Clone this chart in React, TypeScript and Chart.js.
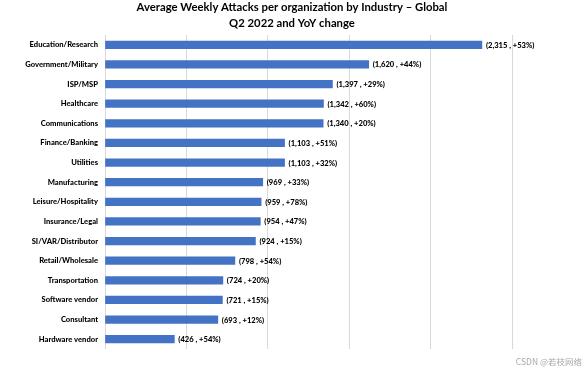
import React, { useEffect, useRef } from "react";
import { Chart, registerables } from "chart.js";

Chart.register(...registerables);

const categories = [
  "Education/Research",
  "Government/Military",
  "ISP/MSP",
  "Healthcare",
  "Communications",
  "Finance/Banking",
  "Utilities",
  "Manufacturing",
  "Leisure/Hospitality",
  "Insurance/Legal",
  "SI/VAR/Distributor",
  "Retail/Wholesale",
  "Transportation",
  "Software vendor",
  "Consultant",
  "Hardware vendor",
];
const weeklyAttacks = [2315, 1620, 1397, 1342, 1340, 1103, 1103, 969, 959, 954, 924, 798, 724, 721, 693, 426];
const yoyChange = [53, 44, 29, 60, 20, 51, 32, 33, 78, 47, 15, 54, 20, 15, 12, 54];
const titleLines = ["Average Weekly Attacks per organization by Industry \u2013 Global", "Q2 2022 and YoY change"];
const watermark = "CSDN @\u82e5\u679d\u7f51\u7edc";

const FONT = 'Lato, "Liberation Sans", sans-serif';

function fmt(v: number) {
  return v.toLocaleString("en-US");
}

export default function App() {
  const ref = useRef<HTMLCanvasElement | null>(null);
  useEffect(() => {
    document.body.style.margin = "0";
    const canvas = ref.current!;
    const labelPlugin = {
      id: "barLabels",
      afterDatasetsDraw(chart: any) {
        const ctx = chart.ctx;
        const meta = chart.getDatasetMeta(0);
        ctx.save();
        ctx.font = `900 7.6px ${FONT}`;
        ctx.fillStyle = "#000";
        ctx.textAlign = "left";
        ctx.textBaseline = "middle";
        meta.data.forEach((bar: any, i: number) => {
          const txt = `(${fmt(weeklyAttacks[i])} , +${yoyChange[i]}%)`;
          ctx.fillText(txt, bar.x + 4, bar.y + 0.5);
        });
        ctx.restore();
      },
      afterDraw(chart: any) {
        const ctx = chart.ctx;
        ctx.save();
        ctx.fillStyle = "#000";
        ctx.textAlign = "center";
        ctx.textBaseline = "alphabetic";
        ctx.font = `bold 11.3px ${FONT}`;
        ctx.fillText(titleLines[0], 292, 11);
        ctx.fillText(titleLines[1], 292, 26.5);
        ctx.font = `8.5px "Noto Sans CJK SC", ${FONT}`;
        ctx.fillStyle = "#a8a8a8";
        ctx.textAlign = "right";
        ctx.textBaseline = "middle";
        ctx.fillText(watermark, 582, 362);
        ctx.restore();
      },
    };
    const chart = new Chart(canvas, {
      type: "bar",
      data: {
        labels: categories,
        datasets: [
          {
            data: weeklyAttacks,
            backgroundColor: "#4472C4",
            barThickness: 7.5,
          },
        ],
      },
      options: {
        animation: false,
        responsive: false,
        indexAxis: "y",
        layout: { padding: { top: 35, right: 76, bottom: 19, left: 0 } },
        plugins: { legend: { display: false }, tooltip: { enabled: false }, title: { display: false } },
        scales: {
          x: {
            min: 0,
            max: 2500,
            ticks: { display: false, stepSize: 500 },
            grid: { color: "#d9d9d9", drawTicks: false, lineWidth: 1 },
            border: { display: false },
          },
          y: {
            grid: { display: false, drawTicks: false },
            border: { display: false },
            ticks: { color: "#000", font: { family: FONT, size: 7.6, weight: "900" }, padding: 7, autoSkip: false },
            afterFit(scale: any) {
              scale.width = 105;
            },
          },
        },
      },
      plugins: [labelPlugin],
    });
    return () => chart.destroy();
  }, []);
  return <canvas ref={ref} width={588} height={368} style={{ display: "block" }} />;
}
